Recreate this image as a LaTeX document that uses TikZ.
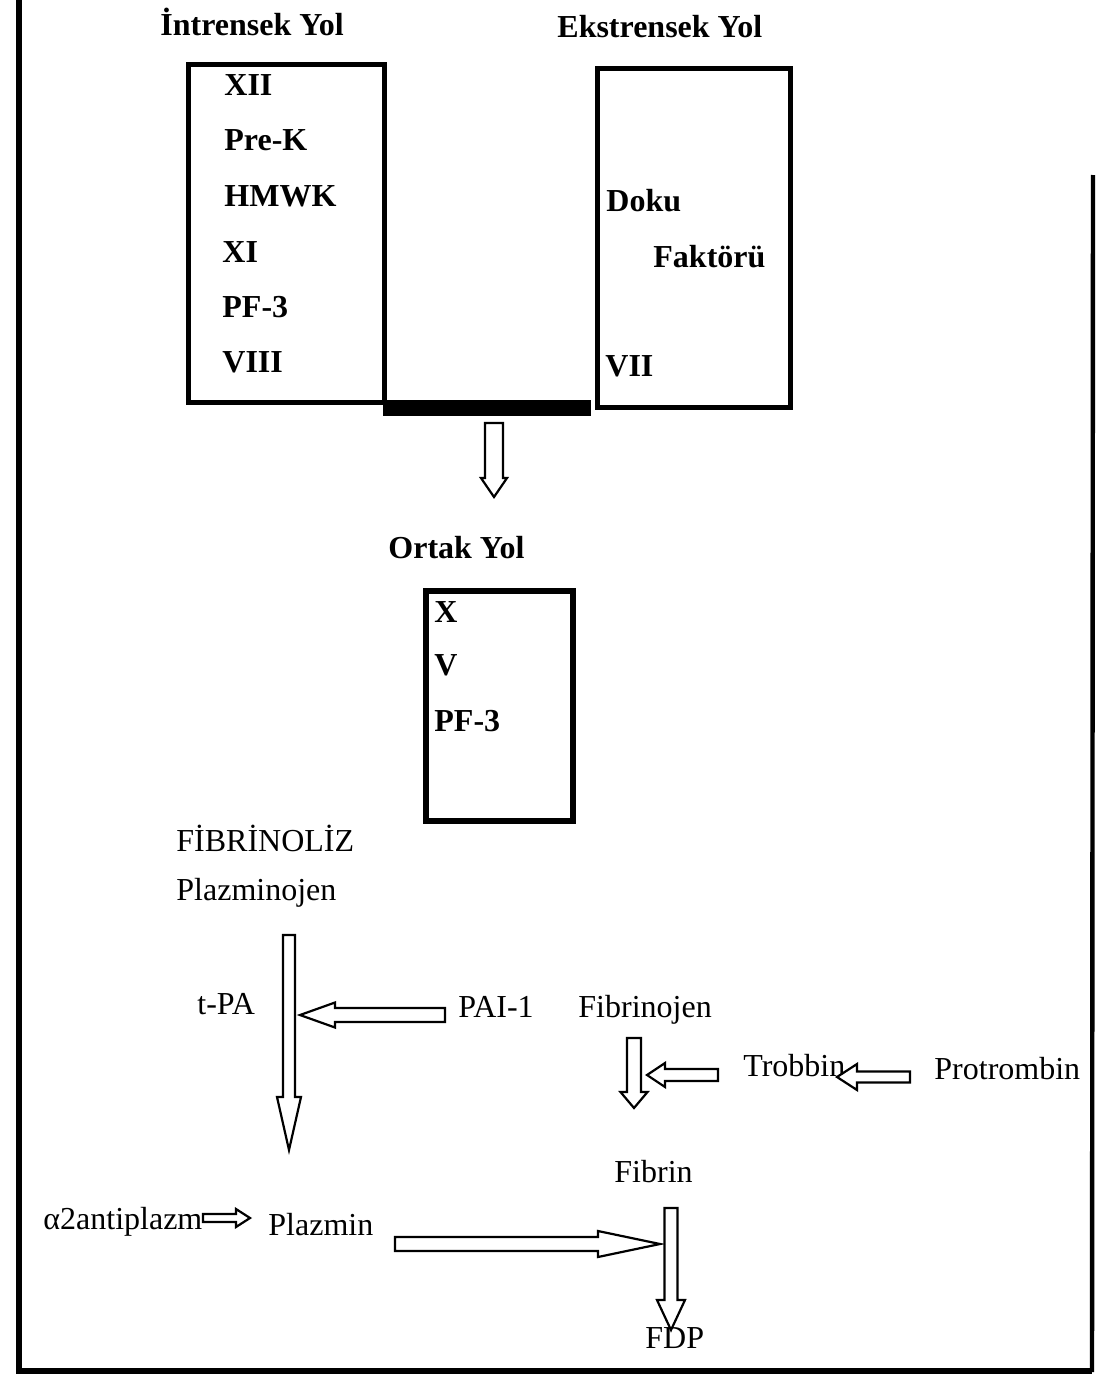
\documentclass[tikz,border=0pt]{standalone}
\usepackage{fontspec}
\setmainfont{Liberation Serif}
\usetikzlibrary{calc,positioning}
\tikzset{
  pathbox/.style={draw,line width=2.5pt,inner sep=0pt,anchor=north west},
  boxitem/.style={font=\bfseries\fontsize{16}{19}\selectfont,inner sep=0pt,anchor=west},
  boxtitle/.style={boxitem},
  plaintext/.style={font=\fontsize{16}{19}\selectfont,inner sep=0pt,anchor=west},
  hollow/.style={draw,line width=1.1pt,fill=white,line join=miter}
}
% #1 tail, #2 tip, #3 half shaft, #4 half head, #5 head length
\newcommand{\blockarrow}[5]{%
  \coordinate (ba-neck) at ($(#2)!#5!(#1)$);
  \draw[hollow] ($(#1)!#3!90:(#2)$) -- ($(ba-neck)!#3!-90:(#1)$)
    -- ($(ba-neck)!#4!-90:(#1)$) -- (#2) -- ($(ba-neck)!#4!90:(#1)$)
    -- ($(ba-neck)!#3!90:(#1)$) -- ($(#1)!#3!-90:(#2)$) -- cycle;
}
\begin{document}
\begin{tikzpicture}[x=0.5pt,y=-0.5pt]
  \useasboundingbox (0,0) rectangle (1099,1386);
  % page frame, open at the top right
  \draw[line width=3.2pt,line join=miter] (19,0) -- (19,1371) -- (1092,1371);
  \draw[line width=2.2pt] (1092,1372) -- (1093,175);

  % intrinsic and extrinsic pathways
  \node[boxtitle] (intrtitle) at (160,22) {İntrensek Yol};
  \node[boxtitle] (extrtitle) at (557,27) {Ekstrensek Yol};
  \node[pathbox,minimum width=98pt,minimum height=169pt] (intr) at (186,62) {};
  \node[boxitem] (f12) at (224,85) {XII};
  \node[boxitem] (prek) at (224,140) {Pre-K};
  \node[boxitem] (hmwk) at (224,196) {HMWK};
  \node[boxitem] (f11) at (222,252) {XI};
  \node[boxitem] (pf3a) at (222,307) {PF-3};
  \node[boxitem] (f8) at (222,362) {VIII};
  \node[pathbox,minimum width=96.5pt,minimum height=169.5pt] (extr) at (595,66) {};
  \node[boxitem] (doku) at (606,201) {Doku};
  \node[boxitem] (faktor) at (653,257) {Faktörü};
  \node[boxitem] (f7) at (605,366) {VII};
  \fill ($(intr.south east)+(-4,-5)$) rectangle ($(extr.south west)+(-4,6)$);

  % common pathway
  \coordinate (bar-out) at (494,423);
  \coordinate (ortak-in) at (494,497);
  \blockarrow{bar-out}{ortak-in}{4.5pt}{6.5pt}{9.5pt}
  \node[boxtitle] (ortaktitle) at (388,548) {Ortak Yol};
  \node[pathbox,line width=3pt,minimum width=73.5pt,minimum height=115pt] (ortak) at (423,588) {};
  \node[boxitem] (f10) at (434,612) {X};
  \node[boxitem] (f5) at (434,665) {V};
  \node[boxitem] (pf3b) at (434,721) {PF-3};

  % fibrinolysis
  \node[plaintext] (fibrinoliz) at (176,838) {FİBRİNOLİZ};
  \node[plaintext] (plg) at (176,893) {Plazminojen};
  \node[plaintext] (tpa) at (197,1004) {t-PA};
  \node[plaintext] (pai) at (458,1007) {PAI-1};
  \node[plaintext] (fbg) at (578,1010) {Fibrinojen};
  \node[plaintext] (trb) at (743,1066) {Trobbin};
  \node[plaintext] (ptr) at (934,1069) {Protrombin};
  \node[plaintext] (fbn) at (614,1172) {Fibrin};
  \node[plaintext] (a2ap) at (43,1222) {α2antiplazm};
  \node[plaintext] (plm) at (268,1225) {Plazmin};
  \node[plaintext] (fdp) at (645,1338) {FDP};

  \coordinate (plg-out) at (289,935);
  \coordinate (plm-in) at (289,1150);
  \coordinate (pai-out) at (445,1015);
  \coordinate (pai-in) at (300,1015);
  \coordinate (fbg-out) at (634,1038);
  \coordinate (fbn-in) at (634,1108);
  \coordinate (trb-out) at (718,1075);
  \coordinate (trb-in) at (647,1075);
  \coordinate (ptr-out) at (910,1077);
  \coordinate (ptr-in) at (837,1077);
  \coordinate (a2ap-out) at (203,1218);
  \coordinate (a2ap-in) at (250,1218);
  \coordinate (plm-out) at (395,1244);
  \coordinate (fbn-hit) at (660,1244);
  \coordinate (fbn-out) at (671,1208);
  \coordinate (fdp-in) at (671,1330);
  \blockarrow{plg-out}{plm-in}{3pt}{6pt}{26.5pt}
  \blockarrow{pai-out}{pai-in}{3.5pt}{6.25pt}{17.5pt}
  \blockarrow{fbg-out}{fbn-in}{3.5pt}{6.75pt}{8pt}
  \blockarrow{trb-out}{trb-in}{3pt}{6pt}{9pt}
  \blockarrow{ptr-out}{ptr-in}{2.75pt}{6.5pt}{10pt}
  \blockarrow{a2ap-out}{a2ap-in}{2pt}{4.5pt}{7pt}
  \blockarrow{plm-out}{fbn-hit}{3.5pt}{6.5pt}{31pt}
  \blockarrow{fbn-out}{fdp-in}{3.25pt}{7pt}{15pt}
\end{tikzpicture}
\end{document}
